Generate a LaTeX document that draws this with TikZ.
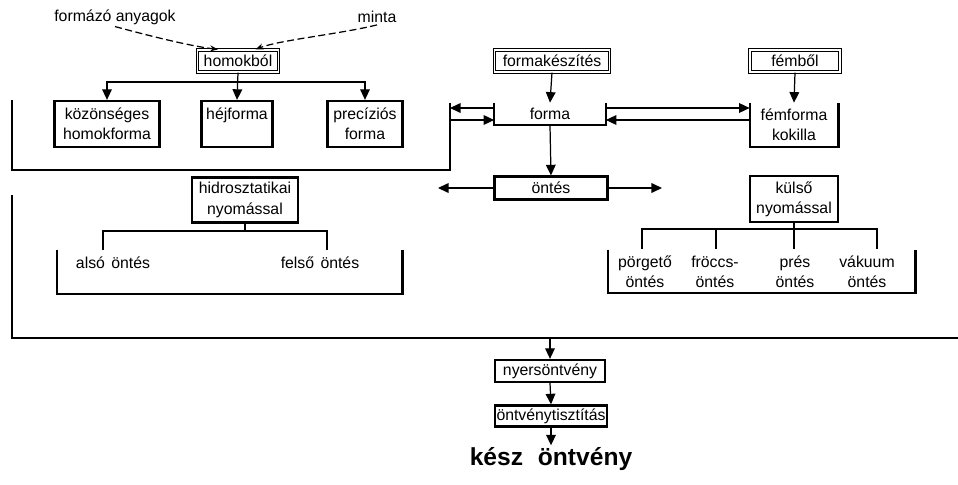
\documentclass[tikz,border=0pt]{standalone}
\usepackage{fontspec}
\setmainfont{Liberation Sans}
\usetikzlibrary{arrows.meta, positioning, calc}
\newcommand{\nyitott}[1]{%
  \draw[dobozvonal] (#1.north west) -- (#1.south west) -- (#1.south east) -- (#1.north east);%
}

\begin{document}
\begin{tikzpicture}[x=0.2mm, y=-0.2mm, >={Triangle[length=6pt, width=5.5pt]},
  every node/.style={font=\fontsize{9}{11.5}\selectfont, inner sep=1pt, align=center},
  doboz/.style={draw, line width=1.3pt},
  kettos/.style={draw, double, line width=0.7pt, double distance=0.8pt},
  dobozvonal/.style={line width=1.3pt},
  vonal/.style={line width=0.7pt},
  keret/.style={line width=1.7pt},
  szaggatott/.style={line width=0.7pt, dash pattern=on 4pt off 2pt}]
  \useasboundingbox (0,0) rectangle (958,484);

  \node (anyag) at (115,17) {formázó anyagok};
  \node (minta) at (377,17) {minta};
  \node[kettos, minimum width=1.62cm, minimum height=0.44cm] (homok) at (238,61) {homokból};
  \node[doboz, minimum width=2.1cm, minimum height=0.92cm] (kozon) at (107,124) {közönséges\\homokforma};
  \node[doboz, minimum width=1.42cm, minimum height=0.92cm] (hej) at (237,124) {héjforma\\ ~};
  \node[doboz, minimum width=1.5cm, minimum height=0.92cm] (prec) at (365,124) {precíziós\\forma};

  \node[kettos, minimum width=2.3cm, minimum height=0.44cm] (formak) at (552,61) {formakészítés};
  \node[kettos, minimum width=1.8cm, minimum height=0.44cm] (febol) at (795,61) {fémből};
  \node[minimum width=2.22cm, minimum height=0.44cm] (forma) at (550,114) {forma};
  \node[minimum width=1.76cm, minimum height=0.88cm] (femforma) at (794,125) {fémforma\\kokilla};
  \nyitott{forma}
  \nyitott{femforma}

  \node[doboz, minimum width=2.26cm, minimum height=0.46cm] (ontes) at (551,188) {öntés};
  \node[doboz, minimum width=2.12cm, minimum height=0.9cm] (hidro) at (245,200) {hidrosztatikai\\nyomással};
  \node[doboz, minimum width=1.76cm, minimum height=0.92cm] (kulso) at (794,199) {külső\\nyomással};

  \node[minimum width=6.9cm, minimum height=0.88cm] (hidrobr) at (229.5,272) {};
  \node[minimum width=6.14cm, minimum height=0.86cm] (kulsobr) at (761.5,271.5) {};
  \nyitott{hidrobr}
  \nyitott{kulsobr}
  \node (also) at (113,263) {alsó\hspace{0.4em}öntés};
  \node (felso) at (320,263) {felső\hspace{0.4em}öntés};
  \node (porg) at (645,272) {pörgető\\öntés};
  \node (frocc) at (715,272) {fröccs-\\öntés};
  \node (pres) at (795,272) {prés\\öntés};
  \node (vakuum) at (867,272) {vákuum\\öntés};

  \node[doboz, minimum width=2.2cm, minimum height=0.44cm] (nyers) at (550,371) {nyersöntvény};
  \node[doboz, minimum width=2.24cm, minimum height=0.42cm] (tiszt) at (551,416) {öntvénytisztítás};
  \node[font=\fontsize{14}{16}\selectfont\bfseries] (kesz) at (551,459) {kész\hspace{0.6em}öntvény};

  % keretek
  \draw[keret] (12,100) -- (12,170) -- (450,170) -- (450,103);
  \draw[keret] (12,195) -- (12,338) -- (958,338);

  % homokformák
  \draw[szaggatott, -{Stealth[length=4.5pt, width=3.5pt]}] (anyag.south) .. controls (150,36) and (190,46) .. ([xshift=-4mm]homok.north);
  \draw[szaggatott, -{Stealth[length=4.5pt, width=3.5pt]}] (minta.south) .. controls (340,34) and (280,40) .. ([xshift=3.5mm]homok.north);
  \coordinate (helag) at (238,82);
  \draw[vonal, ->] (homok.south) -- (hej.north);
  \draw[vonal, ->] (helag) -| (kozon.north);
  \draw[vonal, ->] (helag) -| (prec.north);

  % forma
  \coordinate (bal1) at (450,108);
  \coordinate (bal2) at (450,120);
  \draw[vonal, ->] (formak.south) -- (forma.north);
  \draw[vonal, ->] (febol.south) -- (femforma.north);
  \draw[vonal, ->] (forma.west |- bal1) -- (bal1);
  \draw[vonal, ->] (bal2) -- (forma.west |- bal2);
  \draw[vonal, ->] (forma.east |- bal1) -- (femforma.west |- bal1);
  \draw[vonal, ->] (femforma.west |- bal2) -- (forma.east |- bal2);
  \draw[vonal, ->] (forma.south) -- (ontes.north);

  % öntés
  \coordinate (obal) at (438,188);
  \coordinate (ojobb) at (662,188);
  \draw[vonal, ->] (ontes.west) -- (obal);
  \draw[vonal, ->] (ontes.east) -- (ojobb);

  \coordinate (hag) at (245,231);
  \coordinate (h1) at (103,250);
  \coordinate (h2) at (327,250);
  \draw[vonal] (hidro.south) -- (hag);
  \draw[vonal] (hag) -| (h1);
  \draw[vonal] (hag) -| (h2);

  \coordinate (kag) at (794,229);
  \coordinate (k1) at (642,249);
  \coordinate (k2) at (716,249);
  \coordinate (k3) at (794,249);
  \coordinate (k4) at (877,249);
  \draw[vonal] (kulso.south) -- (k3);
  \draw[vonal] (kag) -| (k1);
  \draw[vonal] (kag) -| (k2);
  \draw[vonal] (kag) -| (k4);

  % utómunka
  \coordinate (gyujto) at (550,338);
  \draw[vonal, ->] (gyujto) -- (nyers.north);
  \draw[vonal, ->] (nyers.south) -- (tiszt.north);
  \draw[vonal, ->] (tiszt.south) -- (kesz.north);
\end{tikzpicture}
\end{document}
